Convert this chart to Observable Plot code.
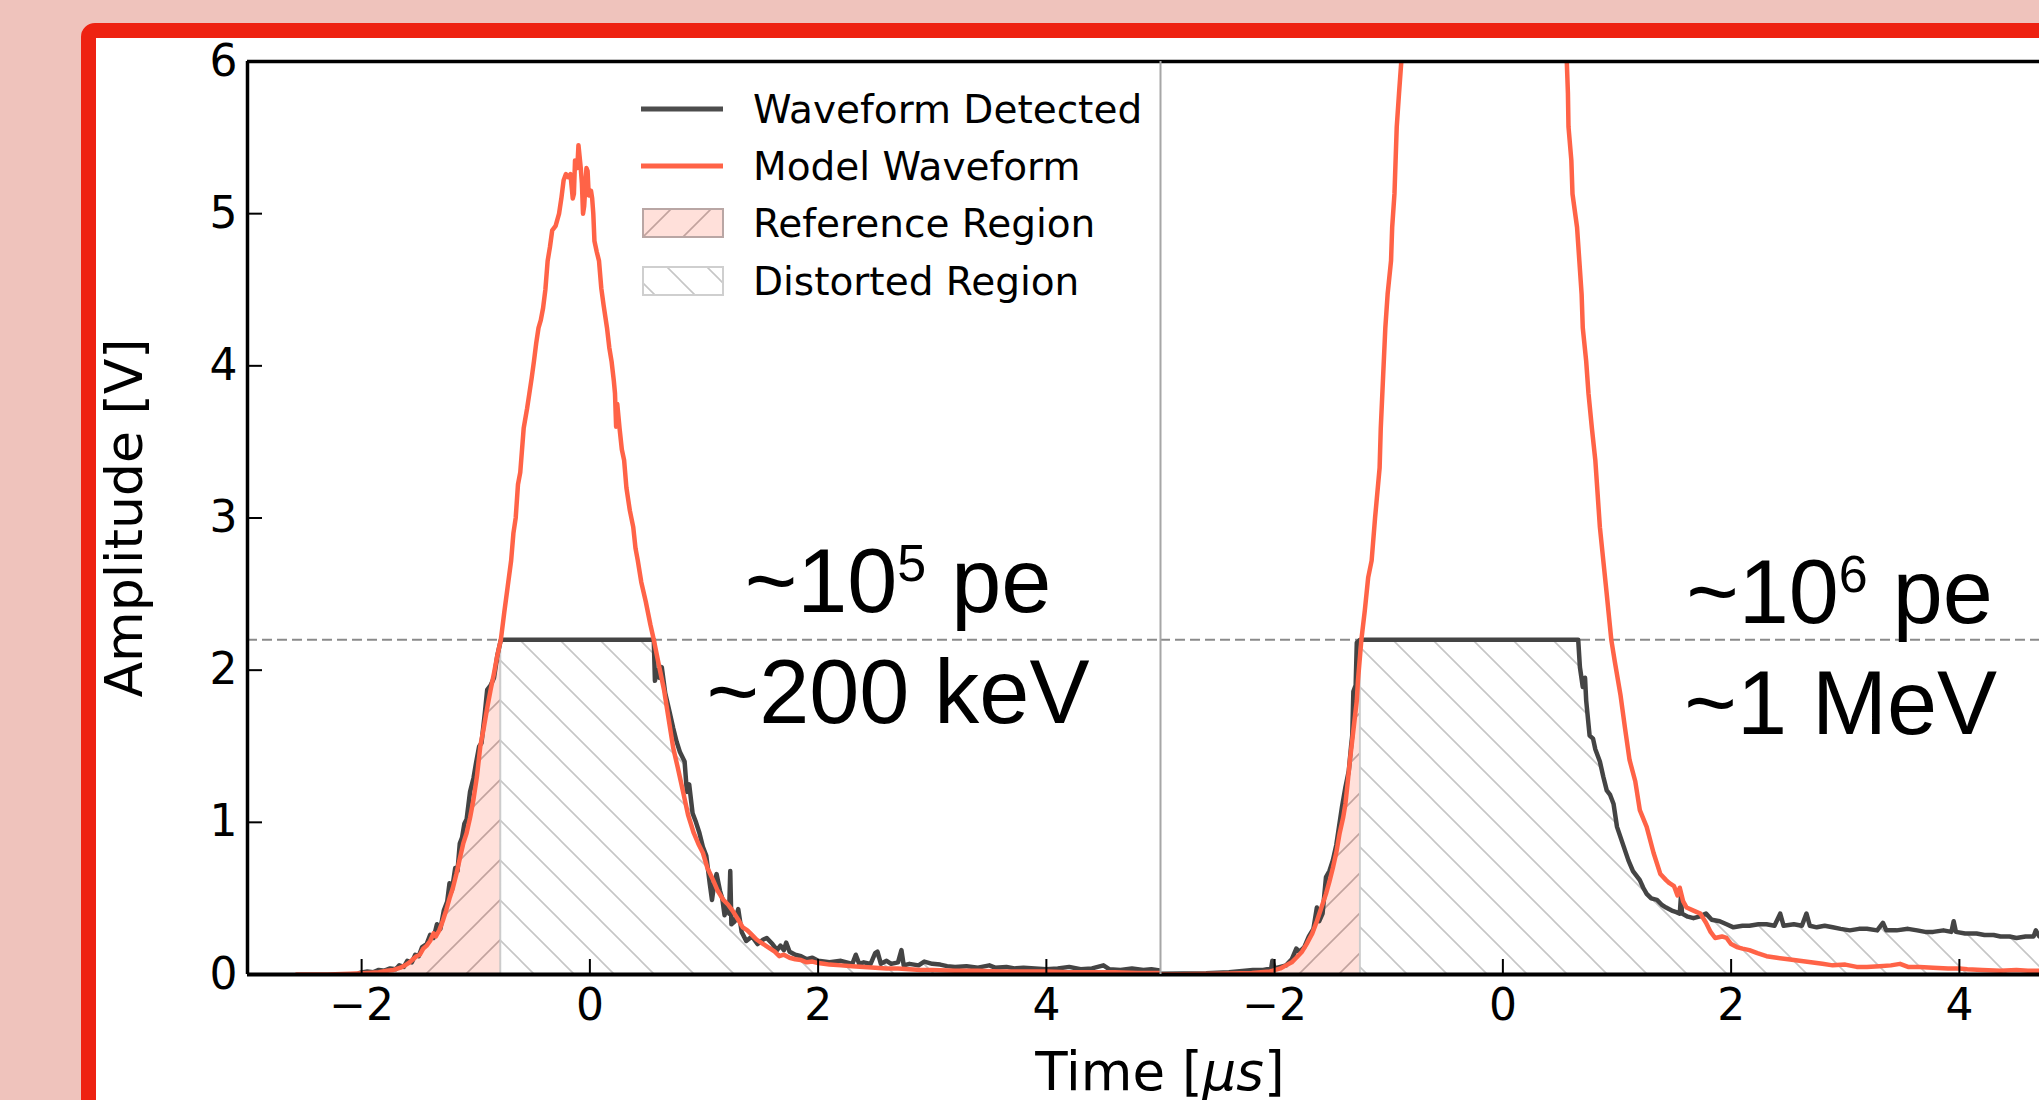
<!DOCTYPE html>
<html>
<head>
<meta charset="utf-8">
<script src="https://cdn.jsdelivr.net/npm/d3@7"></script>
<script src="https://cdn.jsdelivr.net/npm/@observablehq/plot@0.6"></script>
<style>
  html, body { margin: 0; padding: 0; }
  body { width: 2039px; height: 1100px; overflow: hidden; background: #efc3bc; position: relative; font-family: "DejaVu Sans"; }
  #frame { position: absolute; left: 81px; top: 23px; width: 2200px; height: 1300px; background: #fff;
           border: 15px solid #ee2211; border-radius: 14px 0 0 0; box-sizing: border-box; }
  #chart { position: absolute; left: 0; top: 0; }
  #legend { position: absolute; left: 0; top: 0; }
</style>
</head>
<body>
<div id="frame"></div>
<div id="chart"></div>
<svg id="legend" width="1300" height="320"></svg>
<script>
// ---------- data ----------
const panels = ["A", "B"];
const onsetTimes = [-0.78, -1.25];          // start of saturation in each panel (µs)
const saturation = 2.2;                      // clipping level (V)
const xDomain = [-3, 5];
const yDomain = [0, 6];
const xTicks = [-2, 0, 2, 4];
const yTicks = [0, 1, 2, 3, 4, 5, 6];
const legendLabels = ["Waveform Detected", "Model Waveform", "Reference Region", "Distorted Region"];
const annotationLabels = ["~10^5 pe", "~200 keV", "~10^6 pe", "~1 MeV"];
const annotationPanels = ["A", "A", "B", "B"];
const annotationTimes = [2.70, 2.70, 2.95, 2.96];
const annotationLevels = [2.385, 1.65, 2.31, 1.58];

// left panel (~10^5 pe): model waveform [t (µs), amplitude (V)]
const modelLow = [[-2.57,0.0],[-2.3,0.0],[-2.1,0.005],[-1.95,0.01],[-1.85,0.015],[-1.78,0.025],[-1.72,0.03],[-1.66,0.045],[-1.62,0.06],[-1.58,0.08],[-1.55,0.1],[-1.52,0.12],[-1.49,0.13],[-1.46,0.17],[-1.43,0.19],[-1.40,0.22],[-1.37,0.27],[-1.35,0.25],[-1.32,0.29],[-1.29,0.35],[-1.26,0.42],[-1.23,0.5],[-1.2,0.57],[-1.17,0.66],[-1.14,0.76],[-1.11,0.86],[-1.08,0.93],[-1.05,1.03],[-1.02,1.15],[-0.99,1.3],[-0.96,1.5],[-0.93,1.62],[-0.9,1.75],[-0.87,1.87],[-0.84,1.98],[-0.81,2.1],[-0.78,2.2],[-0.75,2.38],[-0.72,2.55],[-0.69,2.72],[-0.67,2.9],[-0.65,3.0],[-0.63,3.22],[-0.61,3.3],[-0.58,3.59],[-0.55,3.72],[-0.53,3.82],[-0.51,3.92],[-0.49,4.03],[-0.47,4.15],[-0.45,4.25],[-0.43,4.3],[-0.41,4.38],[-0.39,4.5],[-0.37,4.69],[-0.35,4.78],[-0.33,4.89],[-0.3,4.92],[-0.27,5.0],[-0.25,5.1],[-0.23,5.22],[-0.21,5.26],[-0.19,5.24],[-0.17,5.26],[-0.15,5.1],[-0.14,5.13],[-0.13,5.35],[-0.11,5.3],[-0.10,5.45],[-0.08,5.3],[-0.07,5.2],[-0.06,5.0],[-0.05,5.05],[-0.03,5.3],[-0.02,5.28],[-0.01,5.12],[0.01,5.15],[0.02,5.1],[0.03,5.0],[0.04,4.82],[0.06,4.75],[0.08,4.69],[0.10,4.51],[0.12,4.4],[0.15,4.25],[0.17,4.12],[0.19,4.03],[0.21,3.9],[0.22,3.82],[0.23,3.6],[0.24,3.75],[0.26,3.59],[0.28,3.45],[0.3,3.38],[0.32,3.2],[0.35,3.05],[0.38,2.94],[0.4,2.8],[0.42,2.72],[0.45,2.58],[0.49,2.45],[0.53,2.3],[0.56,2.2],[0.6,2.05],[0.65,1.87],[0.69,1.68],[0.73,1.49],[0.77,1.36],[0.82,1.19],[0.86,1.05],[0.91,0.93],[0.95,0.86],[0.99,0.8],[1.03,0.7],[1.08,0.62],[1.12,0.55],[1.17,0.49],[1.21,0.46],[1.25,0.42],[1.3,0.36],[1.34,0.31],[1.38,0.29],[1.42,0.26],[1.46,0.23],[1.5,0.21],[1.54,0.19],[1.58,0.17],[1.62,0.15],[1.66,0.12],[1.7,0.13],[1.75,0.11],[1.8,0.1],[1.85,0.095],[1.9,0.08],[1.95,0.085],[2.0,0.075],[2.05,0.07],[2.1,0.065],[2.2,0.06],[2.3,0.055],[2.4,0.05],[2.5,0.045],[2.6,0.04],[2.7,0.04],[2.8,0.035],[2.9,0.03],[3.0,0.03],[3.2,0.025],[3.4,0.025],[3.6,0.02],[3.8,0.02],[4.0,0.02],[4.2,0.015],[4.4,0.015],[4.6,0.015],[4.8,0.01],[5.0,0.01]];

// left panel: detected (saturated) waveform
const detectedLow = [[-2.02,0.01],[-1.95,0.02],[-1.9,0.015],[-1.85,0.03],[-1.8,0.025],[-1.75,0.04],[-1.7,0.035],[-1.67,0.06],[-1.63,0.05],[-1.6,0.09],[-1.56,0.08],[-1.53,0.13],[-1.5,0.12],[-1.47,0.18],[-1.43,0.2],[-1.4,0.26],[-1.37,0.24],[-1.34,0.33],[-1.31,0.3],[-1.28,0.42],[-1.25,0.48],[-1.23,0.6],[-1.21,0.55],[-1.18,0.7],[-1.16,0.68],[-1.14,0.86],[-1.12,0.9],[-1.1,0.99],[-1.08,1.02],[-1.05,1.2],[-1.02,1.29],[-1.0,1.38],[-0.97,1.5],[-0.95,1.52],[-0.92,1.72],[-0.9,1.87],[-0.87,1.9],[-0.84,1.95],[-0.81,2.1],[-0.78,2.2],[0.56,2.2],[0.57,1.93],[0.59,2.0],[0.61,1.95],[0.63,2.02],[0.66,1.85],[0.7,1.72],[0.73,1.62],[0.76,1.53],[0.79,1.46],[0.83,1.4],[0.85,1.2],[0.87,1.25],[0.9,1.06],[0.93,1.0],[0.96,0.93],[0.99,0.84],[1.02,0.78],[1.05,0.6],[1.07,0.49],[1.09,0.6],[1.11,0.66],[1.14,0.55],[1.16,0.5],[1.18,0.39],[1.2,0.45],[1.22,0.4],[1.23,0.68],[1.24,0.33],[1.27,0.35],[1.3,0.43],[1.33,0.28],[1.37,0.22],[1.42,0.25],[1.47,0.2],[1.52,0.23],[1.55,0.24],[1.6,0.2],[1.64,0.16],[1.67,0.19],[1.7,0.16],[1.72,0.21],[1.75,0.15],[1.8,0.13],[1.85,0.12],[1.9,0.1],[1.95,0.11],[2.0,0.09],[2.1,0.08],[2.2,0.09],[2.3,0.07],[2.33,0.13],[2.36,0.07],[2.4,0.08],[2.46,0.07],[2.5,0.14],[2.52,0.15],[2.55,0.07],[2.6,0.09],[2.64,0.07],[2.7,0.08],[2.73,0.16],[2.75,0.06],[2.8,0.07],[2.88,0.06],[2.93,0.085],[3.0,0.07],[3.07,0.065],[3.13,0.055],[3.2,0.05],[3.3,0.055],[3.4,0.045],[3.5,0.06],[3.55,0.045],[3.65,0.05],[3.72,0.04],[3.8,0.045],[3.9,0.04],[4.0,0.035],[4.1,0.04],[4.2,0.05],[4.3,0.035],[4.4,0.04],[4.5,0.06],[4.55,0.035],[4.65,0.03],[4.75,0.04],[4.85,0.03],[4.92,0.035],[5.0,0.025]];

// right panel (~10^6 pe): model waveform (leaves the frame above 6 V)
const modelHigh = [[-3.0,0.0],[-2.5,0.005],[-2.2,0.01],[-2.04,0.02],[-1.95,0.04],[-1.9,0.06],[-1.85,0.08],[-1.81,0.11],[-1.76,0.15],[-1.72,0.2],[-1.67,0.27],[-1.63,0.35],[-1.59,0.44],[-1.55,0.53],[-1.52,0.61],[-1.49,0.7],[-1.46,0.8],[-1.43,0.93],[-1.40,1.03],[-1.38,1.12],[-1.36,1.26],[-1.34,1.41],[-1.32,1.54],[-1.30,1.67],[-1.28,1.8],[-1.27,1.93],[-1.24,2.2],[-1.21,2.39],[-1.18,2.61],[-1.15,2.72],[-1.12,3.0],[-1.08,3.33],[-1.07,3.59],[-1.05,3.92],[-1.03,4.25],[-1.01,4.47],[-0.98,4.69],[-0.97,4.91],[-0.95,5.13],[-0.94,5.35],[-0.93,5.57],[-0.91,5.79],[-0.89,6.0],[-0.87,6.3],[0.55,6.3],[0.56,6.0],[0.57,5.79],[0.575,5.57],[0.60,5.35],[0.61,5.13],[0.65,4.91],[0.67,4.69],[0.69,4.47],[0.70,4.25],[0.73,4.03],[0.75,3.82],[0.78,3.59],[0.81,3.38],[0.83,3.16],[0.85,2.94],[0.88,2.72],[0.91,2.50],[0.95,2.2],[0.98,2.06],[1.03,1.84],[1.07,1.62],[1.11,1.41],[1.16,1.27],[1.20,1.08],[1.26,0.97],[1.32,0.80],[1.38,0.66],[1.43,0.62],[1.46,0.60],[1.50,0.58],[1.53,0.52],[1.55,0.57],[1.58,0.48],[1.61,0.44],[1.67,0.42],[1.73,0.40],[1.78,0.34],[1.82,0.28],[1.86,0.24],[1.92,0.25],[1.96,0.24],[2.0,0.2],[2.05,0.18],[2.1,0.17],[2.16,0.16],[2.23,0.14],[2.31,0.12],[2.4,0.11],[2.5,0.1],[2.6,0.09],[2.7,0.08],[2.8,0.07],[2.89,0.06],[3.0,0.065],[3.1,0.05],[3.19,0.05],[3.3,0.055],[3.4,0.06],[3.48,0.07],[3.55,0.05],[3.65,0.05],[3.77,0.045],[3.9,0.04],[4.0,0.04],[4.07,0.035],[4.2,0.03],[4.36,0.025],[4.5,0.03],[4.6,0.025],[4.7,0.025],[4.85,0.02],[5.0,0.02]];

// right panel: detected (saturated) waveform
const detectedHigh = [[-3.0,0.005],[-2.6,0.008],[-2.4,0.015],[-2.19,0.03],[-2.1,0.03],[-2.03,0.04],[-2.02,0.09],[-2.0,0.04],[-1.95,0.05],[-1.9,0.06],[-1.85,0.1],[-1.81,0.17],[-1.78,0.15],[-1.74,0.18],[-1.7,0.25],[-1.66,0.3],[-1.63,0.44],[-1.61,0.35],[-1.58,0.4],[-1.55,0.64],[-1.52,0.68],[-1.49,0.75],[-1.46,0.85],[-1.43,1.0],[-1.41,1.1],[-1.38,1.23],[-1.35,1.34],[-1.33,1.5],[-1.32,1.57],[-1.31,1.86],[-1.29,1.9],[-1.28,2.18],[-1.25,2.2],[0.66,2.2],[0.675,2.02],[0.70,1.89],[0.72,1.95],[0.73,1.80],[0.76,1.57],[0.79,1.55],[0.81,1.48],[0.85,1.40],[0.88,1.3],[0.91,1.21],[0.94,1.18],[0.97,1.12],[1.0,0.97],[1.05,0.86],[1.10,0.75],[1.14,0.68],[1.17,0.65],[1.20,0.62],[1.23,0.57],[1.26,0.53],[1.3,0.5],[1.35,0.49],[1.39,0.46],[1.43,0.44],[1.48,0.42],[1.52,0.41],[1.55,0.40],[1.56,0.51],[1.57,0.40],[1.62,0.38],[1.67,0.37],[1.72,0.38],[1.78,0.40],[1.83,0.36],[1.9,0.35],[1.96,0.33],[2.02,0.31],[2.1,0.32],[2.16,0.32],[2.24,0.33],[2.31,0.33],[2.38,0.32],[2.43,0.40],[2.46,0.32],[2.55,0.33],[2.62,0.32],[2.66,0.40],[2.69,0.32],[2.75,0.31],[2.82,0.32],[2.89,0.31],[2.96,0.30],[3.04,0.29],[3.12,0.30],[3.19,0.30],[3.28,0.29],[3.33,0.34],[3.36,0.29],[3.45,0.29],[3.55,0.30],[3.63,0.29],[3.7,0.28],[3.77,0.28],[3.86,0.29],[3.93,0.28],[3.95,0.35],[3.97,0.28],[4.05,0.27],[4.15,0.27],[4.22,0.26],[4.3,0.26],[4.36,0.25],[4.44,0.25],[4.5,0.24],[4.58,0.25],[4.65,0.25],[4.67,0.29],[4.7,0.25],[4.8,0.25],[4.9,0.24],[5.0,0.24]];

// ---------- build tables ----------
const rows = (pairs, panel) => pairs.map(([t, v]) => ({panel, t, v}));
const model = [...rows(modelLow, "A"), ...rows(modelHigh, "B")];
const detected = [...rows(detectedLow, "A"), ...rows(detectedHigh, "B")];
const onsetOf = p => onsetTimes[panels.indexOf(p)];
const reference = detected.filter(d => d.t <= onsetOf(d.panel));
const distorted = detected.filter(d => d.t >= onsetOf(d.panel));
const annotations = annotationLabels.map((label, i) => ({label, panel: annotationPanels[i], t: annotationTimes[i], v: annotationLevels[i]}));

const GREY = "#444444", TOMATO = "#ff6347";
const intFormat = d3.format("d");

const chart = Plot.plot({
  width: 2093, height: 1100,
  marginLeft: 247, marginRight: 20, marginTop: 61, marginBottom: 126,
  style: {background: "none", maxWidth: "none", fontFamily: "DejaVu Sans", fontSize: "44px", color: "black", overflow: "visible"},
  fx: {domain: panels, padding: 0, axis: null, label: null, round: false},
  x: {domain: xDomain},
  y: {domain: yDomain},
  marks: [
    Plot.areaY(reference, {x: "t", y: "v", fx: "panel", fill: "url(#hatchRef)", stroke: "#b4b4b4", strokeWidth: 1.5}),
    Plot.areaY(distorted, {x: "t", y: "v", fx: "panel", fill: "url(#hatchDist)", stroke: "#cccccc", strokeWidth: 1.5}),
    Plot.ruleY([saturation], {stroke: "#8a8a8a", strokeWidth: 1.8, strokeDasharray: "10,5"}),
    Plot.line(detected, {x: "t", y: "v", fx: "panel", stroke: GREY, strokeWidth: 4.5, clip: true}),
    Plot.line(model, {x: "t", y: "v", fx: "panel", stroke: TOMATO, strokeWidth: 4.5, clip: true}),
    Plot.text(annotations, {x: "t", y: "v", fx: "panel", text: "label", fontFamily: "Liberation Sans", fontSize: 90,
      textAnchor: "middle", lineAnchor: "bottom", fill: "black"}),
    Plot.ruleY([yDomain[0]], {stroke: "black", strokeWidth: 4}),
    Plot.ruleY([yDomain[1]], {stroke: "black", strokeWidth: 3.5}),
    Plot.ruleX([{panel: "A", t: xDomain[0]}], {x: "t", fx: "panel", stroke: "black", strokeWidth: 3.5}),
    Plot.ruleX([{panel: "A", t: xDomain[1]}], {x: "t", fx: "panel", stroke: "#a6a6a6", strokeWidth: 2}),
    Plot.ruleX([{panel: "B", t: xDomain[1]}], {x: "t", fx: "panel", stroke: "black", strokeWidth: 3.5}),
    Plot.axisX(xTicks, {tickSize: -15, tickPadding: 29, strokeWidth: 2, label: null, fontSize: 44, tickFormat: intFormat}),
    Plot.axisY(yTicks, {tickSize: -15, tickPadding: 25, strokeWidth: 2, label: null, fontSize: 44, tickFormat: intFormat})
  ]
});
document.getElementById("chart").append(chart);

// ---------- hatch patterns ----------
const svg = d3.select(chart);
const defs = svg.insert("defs", ":first-child");
const pDist = defs.append("pattern").attr("id", "hatchDist").attr("patternUnits", "userSpaceOnUse").attr("width", 40).attr("height", 40);
pDist.append("path").attr("d", "M-10,-10L50,50M-10,30L10,50M30,-10L50,10").attr("stroke", "#c6c6c6").attr("stroke-width", 1.6).attr("fill", "none");
const pRef = defs.append("pattern").attr("id", "hatchRef").attr("patternUnits", "userSpaceOnUse").attr("width", 40).attr("height", 40);
pRef.append("rect").attr("width", 40).attr("height", 40).attr("fill", "#ffe0da");
pRef.append("path").attr("d", "M-10,50L50,-10M-10,10L10,-10M30,50L50,30").attr("stroke", "#c2a39e").attr("stroke-width", 1.6).attr("fill", "none");

// ---------- superscripts in annotations ----------
const NS = "http://www.w3.org/2000/svg";
chart.querySelectorAll("text").forEach(el => {
  const m = el.textContent.match(/^(.*)\^(\S+)(.*)$/);
  if (!m) return;
  el.textContent = "";
  const a = document.createElementNS(NS, "tspan"); a.textContent = m[1];
  const b = document.createElementNS(NS, "tspan"); b.textContent = m[2];
  b.setAttribute("font-size", "52"); b.setAttribute("dy", "-31");
  const c = document.createElementNS(NS, "tspan"); c.textContent = m[3]; c.setAttribute("dy", "31");
  el.append(a, b, c);
});

// ---------- axis labels ----------
svg.append("text").attr("transform", "translate(142,518) rotate(-90)").attr("text-anchor", "middle")
  .attr("font-size", 52).attr("fill", "black").text("Amplitude [V]");
const tl = svg.append("text").attr("x", 1160).attr("y", 1090).attr("text-anchor", "middle").attr("font-size", 53).attr("fill", "black");
tl.append("tspan").text("Time [");
tl.append("tspan").attr("font-style", "italic").text("\u03BCs");
tl.append("tspan").text("]");

// ---------- legend ----------
const lg = d3.select("#legend").style("font-family", "DejaVu Sans");
const rowY = [109, 166, 223, 281];
lg.append("line").attr("x1", 641).attr("x2", 723).attr("y1", rowY[0]).attr("y2", rowY[0]).attr("stroke", "#4d4d4d").attr("stroke-width", 5);
lg.append("line").attr("x1", 641).attr("x2", 723).attr("y1", rowY[1]).attr("y2", rowY[1]).attr("stroke", TOMATO).attr("stroke-width", 5);
lg.append("rect").attr("x", 643).attr("y", rowY[2] - 14).attr("width", 80).attr("height", 28).attr("fill", "url(#hatchRef)").attr("stroke", "#b9a6a4").attr("stroke-width", 2);
lg.append("rect").attr("x", 643).attr("y", rowY[3] - 14).attr("width", 80).attr("height", 28).attr("fill", "url(#hatchDist)").attr("stroke", "#cfcfcf").attr("stroke-width", 2);
legendLabels.forEach((lab, i) => {
  lg.append("text").attr("x", 753).attr("y", rowY[i] + 14).attr("font-size", 39).attr("fill", "black").text(lab);
});
</script>
</body>
</html>
